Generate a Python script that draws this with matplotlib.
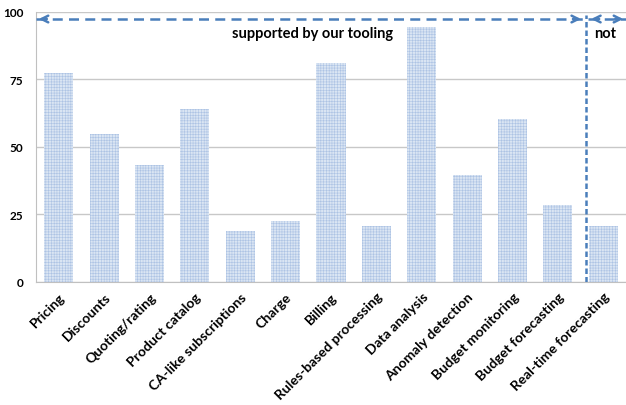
import numpy as np
import matplotlib
matplotlib.use('Agg')
import matplotlib.pyplot as plt

# categories and values
categories = ["Pricing", "Discounts", "Quoting/rating", "Product catalog",
              "CA-like subscriptions", "Charge", "Billing", "Rules-based processing",
              "Data analysis", "Anomaly detection", "Budget monitoring",
              "Budget forecasting", "Real-time forecasting"]
values = [77.4, 54.8, 43.4, 64.1, 18.9, 22.7, 81.1, 20.7, 94.4, 39.6, 60.4, 28.4, 20.7]
yticks = [0, 25, 50, 75, 100]

plt.rcParams['font.family'] = ['Lato', 'DejaVu Sans']
plt.rcParams['hatch.linewidth'] = 0.4

fig = plt.figure(figsize=(6.26, 4.06), dpi=100)
ax = fig.add_axes([0.0575, 0.303, 0.9425, 0.665])

x = np.arange(len(categories))
ax.bar(x, values, width=0.64, color='#dae5f3', edgecolor='#adc3e4', linewidth=0,
       hatch='++++++', zorder=2)

ax.set_xlim(-0.5, len(categories) - 0.5)
ax.set_ylim(0, 100)
ax.set_yticks(yticks)
ax.set_yticklabels([str(t) for t in yticks], fontweight='bold', fontsize=8.5)
ax.set_xticks(x)
ax.set_xticklabels(categories, rotation=45, ha='right', rotation_mode='anchor',
                   fontweight='bold', fontsize=10)
ax.tick_params(axis='both', length=0, pad=6)
ax.tick_params(axis='y', pad=9)

ax.grid(axis='y', color='#c8c8c8', linewidth=1, zorder=0)
for s in ['top', 'right']:
    ax.spines[s].set_visible(False)
ax.spines['left'].set_color('#c0c0c0')
ax.spines['bottom'].set_color('#c0c0c0')

# dashed arrows marking supported / not supported
blue = '#4a7ebb'
split = 11.62
ya = 97.4
ax.plot([-0.5, split - 0.05], [ya, ya], color=blue, ls=(0, (4, 2.5)), lw=1.8, clip_on=False, zorder=3)
ax.plot([split + 0.05, 12.5], [ya, ya], color=blue, ls=(0, (4, 2.5)), lw=1.8, clip_on=False, zorder=3)
ax.plot([split, split], [0, 99], color=blue, ls=(0, (2.2, 1.2)), lw=1.8, zorder=3)
head = dict(arrowstyle='->', color=blue, lw=1.8, mutation_scale=12)
ax.annotate('', xy=(-0.5, ya), xytext=(-0.2, ya), arrowprops=head, annotation_clip=False)
ax.annotate('', xy=(split - 0.05, ya), xytext=(split - 0.35, ya), arrowprops=head, annotation_clip=False)
ax.annotate('', xy=(split + 0.05, ya), xytext=(split + 0.35, ya), arrowprops=head, annotation_clip=False)
ax.annotate('', xy=(12.5, ya), xytext=(12.2, ya), arrowprops=head, annotation_clip=False)

ax.text(5.6, 92.2, 'supported by our tooling', ha='center', va='center',
        fontweight='bold', fontsize=10.5)
ax.text(12.05, 92.2, 'not', ha='center', va='center', fontweight='bold', fontsize=10.5)

fig.savefig('out.png', dpi=100, facecolor='white')
